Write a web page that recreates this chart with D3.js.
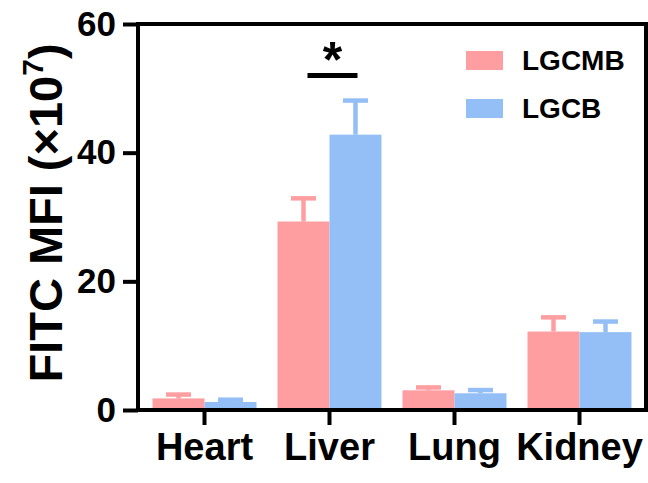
<!DOCTYPE html>
<html><head><meta charset="utf-8">
<script src="https://cdn.jsdelivr.net/npm/d3@7"></script>
<style>body{margin:0;background:#fff}</style>
</head><body>
<svg id="c" width="648" height="483"></svg>
<script>
const categories = ["Heart", "Liver", "Lung", "Kidney"];
const seriesNames = ["LGCMB", "LGCB"];
const lgcmbMean = [1.8, 29.3, 3.06, 12.2];
const lgcmbErr  = [0.6, 3.6, 0.45, 2.2];
const lgcbMean  = [1.25, 42.8, 2.6, 12.1];
const lgcbErr   = [0.35, 5.3, 0.5, 1.65];
const yTicks = [0, 20, 40, 60];
const colors = ["#FF9EA1", "#93BFF6"];
const sigValue = 52;

(function () {
const svg = d3.select("#c");
const font = "'Liberation Sans', Arial, Helvetica, sans-serif";
const pL = 138, pR = 646, pT = 24, pB = 410;

const x = d3.scaleBand().domain(categories).range([pL, pR]).paddingInner(0.168).paddingOuter(0.116);
const xs = d3.scaleBand().domain(seriesNames).range([0, x.bandwidth()]);
const y = d3.scaleLinear().domain([0, 60]).range([pB, pT]);

const data = [];
categories.forEach((c, i) => {
  data.push({cat: c, s: "LGCMB", v: lgcmbMean[i], e: lgcmbErr[i], col: colors[0]});
  data.push({cat: c, s: "LGCB", v: lgcbMean[i], e: lgcbErr[i], col: colors[1]});
});

const g = svg.append("g");
const capW = 25, sw = 4.5;
data.forEach(d => {
  const cx = x(d.cat) + xs(d.s) + xs.bandwidth() / 2;
  g.append("line").attr("x1", cx).attr("x2", cx).attr("y1", y(d.v)).attr("y2", y(d.v + d.e))
    .attr("stroke", d.col).attr("stroke-width", sw);
  g.append("line").attr("x1", cx - capW / 2).attr("x2", cx + capW / 2).attr("y1", y(d.v + d.e)).attr("y2", y(d.v + d.e))
    .attr("stroke", d.col).attr("stroke-width", sw);
});
g.selectAll("rect.bar").data(data).enter().append("rect")
  .attr("x", d => x(d.cat) + xs(d.s))
  .attr("width", xs.bandwidth())
  .attr("y", d => y(d.v))
  .attr("height", d => y(0) - y(d.v))
  .attr("fill", d => d.col);

svg.append("rect").attr("x", pL).attr("y", pT).attr("width", pR - pL).attr("height", pB - pT)
  .attr("fill", "none").attr("stroke", "#000").attr("stroke-width", 4);

const yAxis = svg.append("g").attr("transform", `translate(${pL},0)`)
  .call(d3.axisLeft(y).tickValues(yTicks).tickSize(15).tickPadding(7));
yAxis.select(".domain").remove();
yAxis.selectAll("line").attr("stroke", "#000").attr("stroke-width", 4);
yAxis.selectAll("text").attr("font-family", font).attr("font-weight", "bold").attr("font-size", 35).attr("fill", "#000");

const xAxis = svg.append("g").attr("transform", `translate(0,${pB})`)
  .call(d3.axisBottom(x).tickSize(15).tickPadding(8));
xAxis.select(".domain").remove();
xAxis.selectAll("line").attr("stroke", "#000").attr("stroke-width", 4);
xAxis.selectAll("text").attr("font-family", font).attr("font-weight", "bold").attr("font-size", 38).attr("fill", "#000");

const yt = svg.append("text").attr("transform", "translate(62,213) rotate(-90)")
  .attr("text-anchor", "middle").attr("font-family", font).attr("font-weight", "bold").attr("font-size", 47);
yt.append("tspan").text("FITC MFI (×10");
yt.append("tspan").attr("dy", -19).attr("font-size", 30).text("7");
yt.append("tspan").attr("dy", 19).text(")");

const lx = x("Liver");
svg.append("line").attr("x1", lx + 30).attr("x2", lx + 80).attr("y1", y(sigValue)).attr("y2", y(sigValue))
  .attr("stroke", "#000").attr("stroke-width", 5);
svg.append("text").attr("x", lx + 55).attr("y", y(sigValue) + 2).attr("text-anchor", "middle")
  .attr("font-family", font).attr("font-weight", "bold").attr("font-size", 50).text("*");

const leg = svg.append("g");
seriesNames.forEach((s, i) => {
  leg.append("rect").attr("x", 466).attr("y", 51 + i * 48).attr("width", 37).attr("height", 19).attr("fill", colors[i]);
  leg.append("text").attr("x", 522).attr("y", 70 + i * 48).attr("font-family", font).attr("font-weight", "bold")
    .attr("font-size", 28).text(s);
});
})();
</script>
</body></html>
